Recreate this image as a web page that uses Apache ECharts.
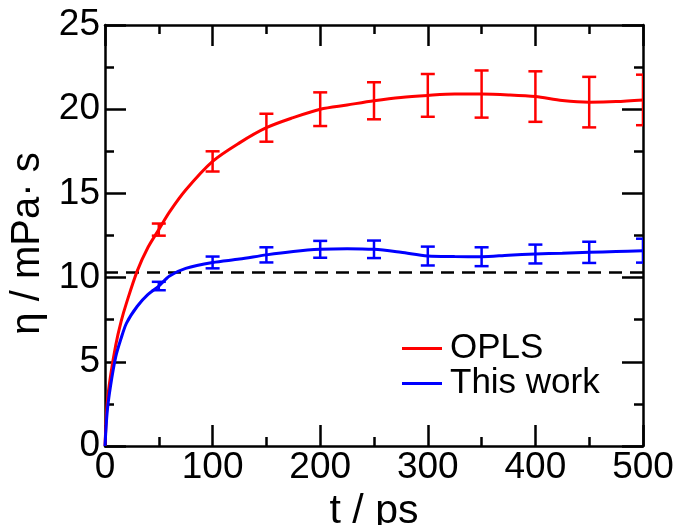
<!DOCTYPE html>
<html>
<head>
<meta charset="utf-8">
<script src="https://cdn.jsdelivr.net/npm/echarts@6/dist/echarts.min.js"></script>
<style>
  html, body { margin: 0; padding: 0; background: #fff; }
  #chart { width: 678px; height: 525px; }
</style>
</head>
<body>
<div id="chart"></div>
<script>
// Time axis samples (ps) for the running viscosity curves
const tValues = [0, 2, 5, 10, 15, 20, 30, 40, 50, 60, 75, 100, 125, 150, 175, 200, 225, 250, 275, 300, 325, 350, 375, 400, 425, 450, 475, 500];
// Running viscosity (mPa·s), OPLS force field
const oplsEta = [0, 2.5, 4.1, 6.0, 7.4, 8.5, 10.4, 11.8, 12.85, 13.9, 15.2, 16.9, 18.0, 18.9, 19.5, 20.0, 20.25, 20.5, 20.7, 20.82, 20.9, 20.9, 20.85, 20.75, 20.52, 20.42, 20.45, 20.55];
// Running viscosity (mPa·s), this work
const thisWorkEta = [0, 2.0, 3.5, 5.3, 6.4, 7.3, 8.3, 9.0, 9.5, 10.1, 10.55, 10.9, 11.1, 11.35, 11.55, 11.68, 11.72, 11.68, 11.5, 11.28, 11.25, 11.24, 11.33, 11.4, 11.45, 11.5, 11.55, 11.6];
// Times where error bars are shown, with their half-widths
const errTimes = [50, 100, 150, 200, 250, 300, 350, 400, 450, 500];
const oplsErr = [0.36, 0.6, 0.83, 1.0, 1.1, 1.27, 1.4, 1.5, 1.5, 1.5];
const thisWorkErr = [0.25, 0.35, 0.45, 0.5, 0.52, 0.56, 0.56, 0.56, 0.63, 0.71];
// Experimental reference level (dashed)
const expEta = 10.3;
// Axis ticks
const xTicks = { min: 0, max: 500, step: 100 };
const yTicks = { min: 0, max: 25, step: 5 };

const RED = '#ff0000';
const BLUE = '#0000ff';
const FONT = '"Liberation Sans", Arial, Helvetica, sans-serif';

function pairs(xs, ys) { return xs.map((x, i) => [x, ys[i]]); }
function errData(curve, errs) {
  return errTimes.map((t, i) => {
    const v = curve[tValues.indexOf(t)];
    return [t, v - errs[i], v + errs[i]];
  });
}

function errorBarRenderer(color) {
  return function (params, api) {
    const x = api.value(0);
    const lo = api.coord([x, api.value(1)]);
    const hi = api.coord([x, api.value(2)]);
    const cap = 7;
    const style = { stroke: color, lineWidth: 2.5, fill: null };
    return {
      type: 'group',
      children: [
        { type: 'line', shape: { x1: lo[0], y1: lo[1], x2: hi[0], y2: hi[1] }, style },
        { type: 'line', shape: { x1: lo[0] - cap, y1: lo[1], x2: lo[0] + cap, y2: lo[1] }, style },
        { type: 'line', shape: { x1: hi[0] - cap, y1: hi[1], x2: hi[0] + cap, y2: hi[1] }, style }
      ]
    };
  };
}

const axisLineStyle = { show: true, onZero: false, lineStyle: { color: '#000', width: 2.5 } };
const tickStyle = { show: true, inside: true, length: 21, lineStyle: { color: '#000', width: 2.5 } };
const minorStyle = { show: true, splitNumber: 2, length: 9, lineStyle: { color: '#000', width: 2.5 } };
const labelFont = { color: '#000', fontFamily: FONT, fontSize: 37 };

const chart = echarts.init(document.getElementById('chart'), null, { renderer: 'canvas' });
chart.setOption({
  animation: false,
  backgroundColor: '#fff',
  grid: { left: 105, right: 35, top: 25, bottom: 79, containLabel: false, outerBoundsMode: 'none' },
  legend: {
    data: ['OPLS', 'This work'],
    orient: 'vertical',
    left: 402,
    top: 331,
    padding: 0,
    itemGap: 0,
    itemWidth: 40,
    itemHeight: 3,
    icon: 'rect',
    textStyle: { color: '#000', fontFamily: FONT, fontSize: 35, padding: [0, 0, 0, 3] }
  },
  xAxis: [
    {
      type: 'value', min: xTicks.min, max: xTicks.max, interval: xTicks.step,
      position: 'bottom',
      name: 't / ps', nameLocation: 'middle', nameGap: 35,
      nameTextStyle: { color: '#000', fontFamily: FONT, fontSize: 41 },
      axisLine: axisLineStyle, axisTick: tickStyle, minorTick: minorStyle,
      splitLine: { show: false },
      axisLabel: Object.assign({ margin: 3 }, labelFont)
    },
    {
      type: 'value', min: xTicks.min, max: xTicks.max, interval: xTicks.step,
      position: 'top',
      axisLine: axisLineStyle, axisTick: tickStyle, minorTick: minorStyle,
      splitLine: { show: false }, axisLabel: { show: false }
    }
  ],
  yAxis: [
    {
      type: 'value', min: yTicks.min, max: yTicks.max, interval: yTicks.step,
      position: 'left',
      name: 'η / mPa· s', nameLocation: 'middle', nameGap: 55, nameRotate: 90,
      nameTextStyle: { color: '#000', fontFamily: FONT, fontSize: 40, padding: [0, 16, 0, 0] },
      axisLine: axisLineStyle, axisTick: tickStyle, minorTick: minorStyle,
      splitLine: { show: false },
      axisLabel: Object.assign({ margin: 5 }, labelFont)
    },
    {
      type: 'value', min: yTicks.min, max: yTicks.max, interval: yTicks.step,
      position: 'right',
      axisLine: axisLineStyle, axisTick: tickStyle, minorTick: minorStyle,
      splitLine: { show: false }, axisLabel: { show: false }
    }
  ],
  series: [
    {
      name: 'experiment', type: 'line', xAxisIndex: 0, yAxisIndex: 0,
      data: [[xTicks.min, expEta], [xTicks.max, expEta]],
      showSymbol: false, symbol: 'none', silent: true,
      lineStyle: { color: '#000', width: 2.5, type: [13, 8] }
    },
    {
      name: 'OPLS', type: 'line', xAxisIndex: 0, yAxisIndex: 0,
      data: pairs(tValues, oplsEta),
      smooth: 0.3, showSymbol: false, symbol: 'none',
      color: RED, lineStyle: { color: RED, width: 3 }
    },
    {
      name: 'This work', type: 'line', xAxisIndex: 0, yAxisIndex: 0,
      data: pairs(tValues, thisWorkEta),
      smooth: 0.3, showSymbol: false, symbol: 'none',
      color: BLUE, lineStyle: { color: BLUE, width: 3 }
    },
    {
      name: 'OPLS error', type: 'custom', xAxisIndex: 0, yAxisIndex: 0, clip: true,
      data: errData(oplsEta, oplsErr), renderItem: errorBarRenderer(RED), silent: true
    },
    {
      name: 'This work error', type: 'custom', xAxisIndex: 0, yAxisIndex: 0, clip: true,
      data: errData(thisWorkEta, thisWorkErr), renderItem: errorBarRenderer(BLUE), silent: true
    }
  ]
});
</script>
</body>
</html>
